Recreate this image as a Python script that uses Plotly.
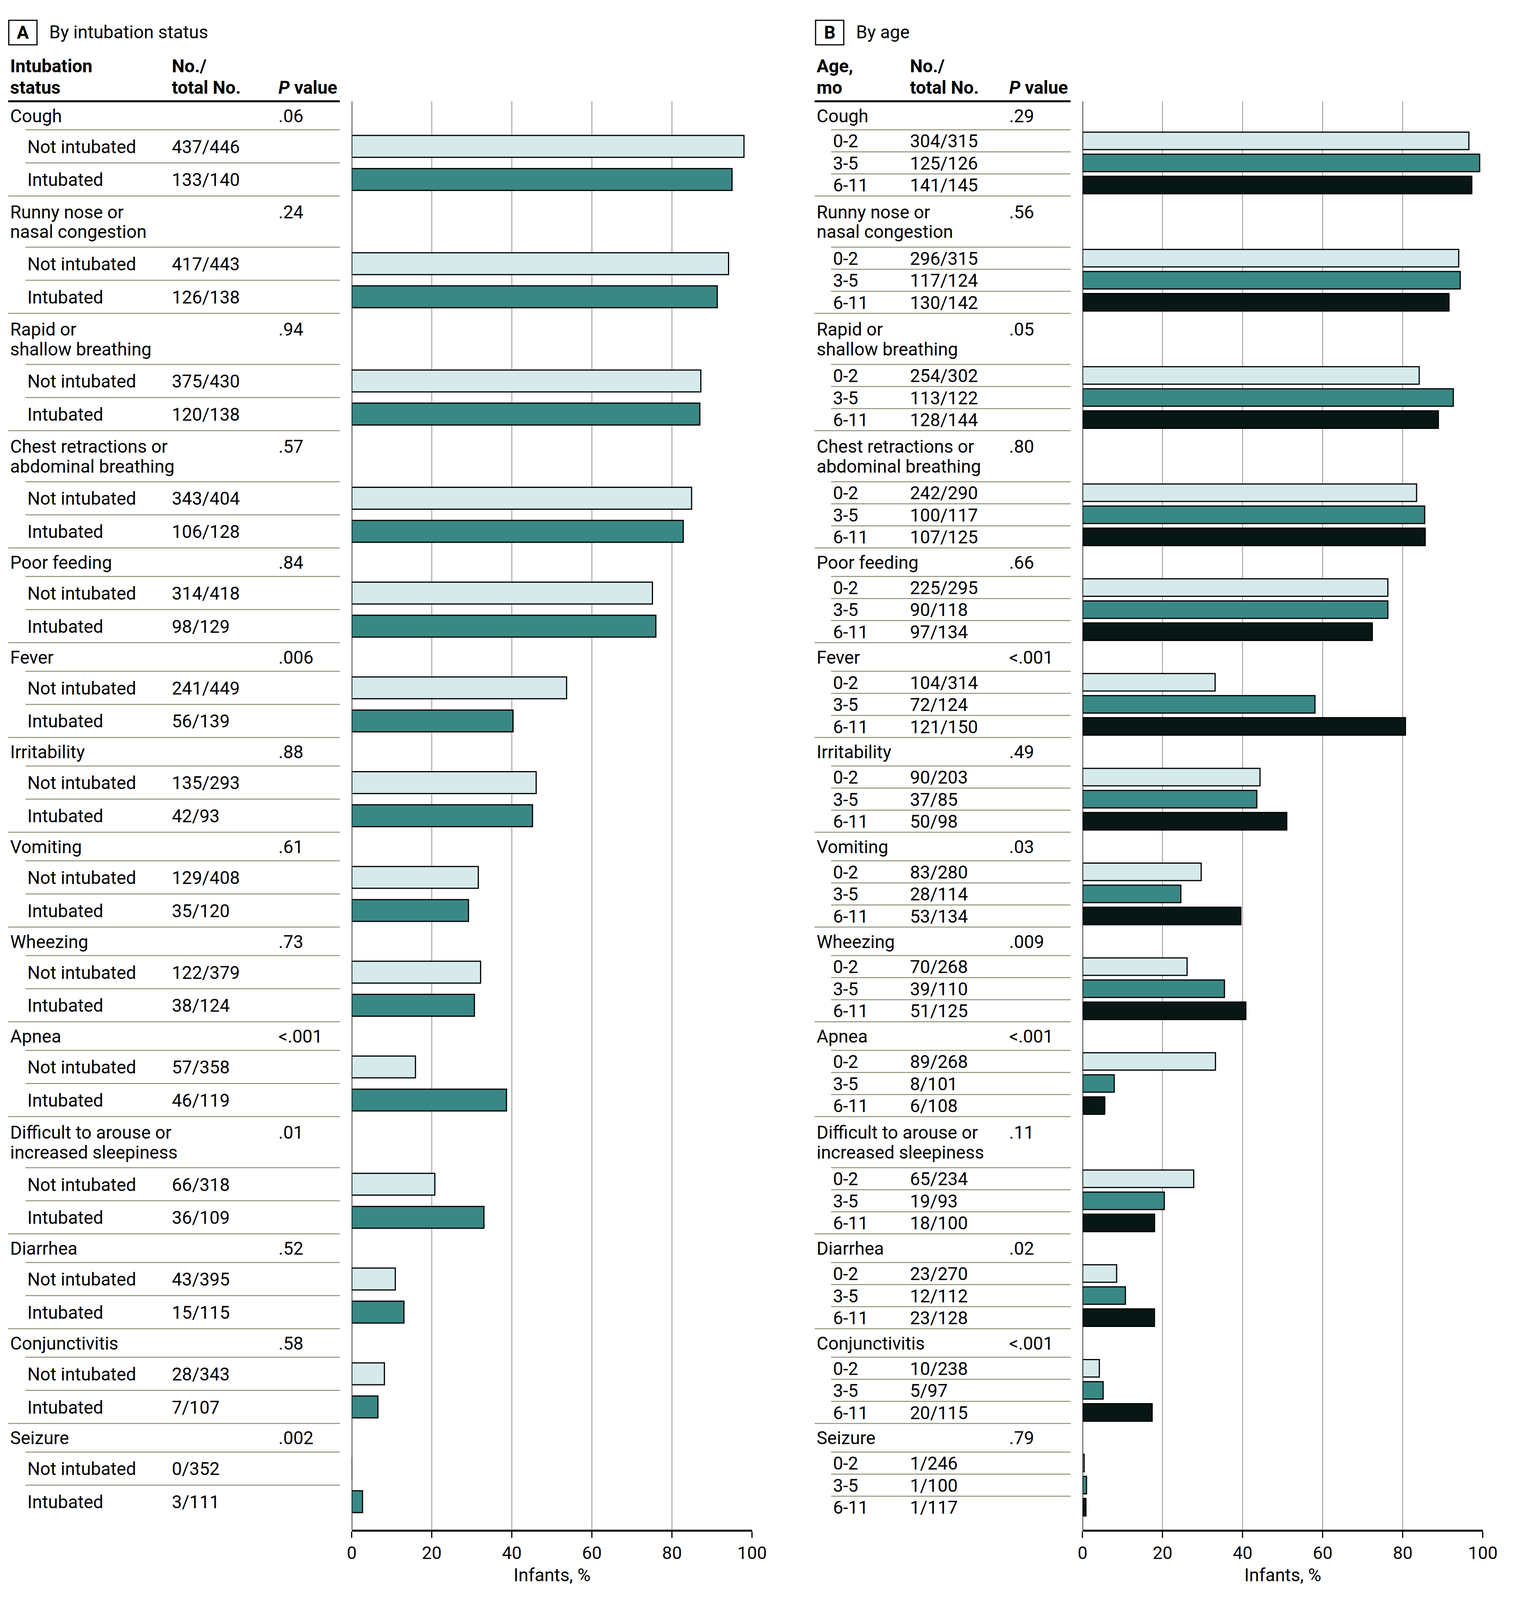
import plotly.graph_objects as go

# reference canvas, used to place everything in paper fractions
W, H = 3892, 4742

# ---- data ----
symptoms = [
    "Cough", "Runny nose or<br>nasal congestion", "Rapid or<br>shallow breathing",
    "Chest retractions or<br>abdominal breathing", "Poor feeding", "Fever", "Irritability",
    "Vomiting", "Wheezing", "Apnea", "Difficult to arouse or<br>increased sleepiness",
    "Diarrhea", "Conjunctivitis", "Seizure",
]

# panel A: by intubation status
intub_groups = ["Not intubated", "Intubated"]
p_intub = [".06", ".24", ".94", ".57", ".84", ".006", ".88", ".61", ".73", "<.001", ".01", ".52", ".58", ".002"]
not_intub_n = [437, 417, 375, 343, 314, 241, 135, 129, 122, 57, 66, 43, 28, 0]
not_intub_total = [446, 443, 430, 404, 418, 449, 293, 408, 379, 358, 318, 395, 343, 352]
intub_n = [133, 126, 120, 106, 98, 56, 42, 35, 38, 46, 36, 15, 7, 3]
intub_total = [140, 138, 138, 128, 129, 139, 93, 120, 124, 119, 109, 115, 107, 111]

# panel B: by age
age_groups = ["0-2", "3-5", "6-11"]
p_age = [".29", ".56", ".05", ".80", ".66", "<.001", ".49", ".03", ".009", "<.001", ".11", ".02", "<.001", ".79"]
age02_n = [304, 296, 254, 242, 225, 104, 90, 83, 70, 89, 65, 23, 10, 1]
age02_total = [315, 315, 302, 290, 295, 314, 203, 280, 268, 268, 234, 270, 238, 246]
age35_n = [125, 117, 113, 100, 90, 72, 37, 28, 39, 8, 19, 12, 5, 1]
age35_total = [126, 124, 122, 117, 118, 124, 85, 114, 110, 101, 93, 112, 97, 100]
age611_n = [141, 130, 128, 107, 97, 121, 50, 53, 51, 6, 18, 23, 20, 1]
age611_total = [145, 142, 144, 125, 134, 150, 98, 134, 125, 108, 100, 128, 115, 117]

LIGHT = "#D6EAEB"
TEAL = "#3A8885"
DARK = "#081716"
SEP = "#8D9279"
GRID = "#B4B4B4"
FONT = "Roboto, Liberation Sans, Arial, sans-serif"
FS = 46

TOP = 292      # thick header rule
BOTTOM = 4542  # x axis line
HEAD_H = 85
LINE_H = 67


def px(v):
    return v / W


def py(v):
    return 1 - v / H


annotations = []
shapes = []


def txt(x, y, s, size=FS, anchor="left"):
    annotations.append(dict(x=px(x), y=py(y), xref="paper", yref="paper", text=s,
                            showarrow=False, xanchor=anchor, yanchor="middle",
                            font=dict(size=size, color="black", family=FONT)))


def hline(x0, x1, y, color=SEP, width=2.5):
    shapes.append(dict(type="line", xref="paper", yref="paper", x0=px(x0), x1=px(x1),
                       y0=py(y), y1=py(y), line=dict(color=color, width=width)))


def panel(x_left, x_sub, x_num, x_p, x_right, sub_labels, pvals, counts, sub_h):
    """Lay out one table panel; returns bar centre positions per subgroup."""
    centers = [[] for _ in sub_labels]
    y = TOP
    for i, name in enumerate(symptoms):
        lines = name.split("<br>")
        h = HEAD_H + LINE_H * (len(lines) - 1)
        mid = y + h / 2 + 1
        for k, ln in enumerate(lines):
            txt(x_left, mid + (k - (len(lines) - 1) / 2) * 59, ln)
        txt(x_p, mid - (len(lines) - 1) * 29.5, pvals[i])
        y += h
        hline(x_sub - 3, x_right, y)
        for j, lab in enumerate(sub_labels):
            c = y + sub_h / 2
            n, tot = counts[j][0][i], counts[j][1][i]
            txt(x_sub, c + 1, lab)
            txt(x_num, c + 1, f"{n}/{tot}")
            centers[j].append(c)
            y += sub_h
            if j < len(sub_labels) - 1:
                hline(x_sub - 3, x_right, y)
        if i < len(symptoms) - 1:
            hline(x_left - 3, x_right, y)
    return centers


# panel A table
cent_a = panel(3, 48, 424, 702, 864, intub_groups, p_intub,
               [(not_intub_n, not_intub_total), (intub_n, intub_total)], 98.5)
# panel B table
cent_b = panel(2104, 2147, 2347, 2606, 2768, age_groups, p_age,
               [(age02_n, age02_total), (age35_n, age35_total), (age611_n, age611_total)], 197 / 3)

# headers
for (bx, label, title, col1, xs) in [
    (0, "A", "By intubation status", ["Intubation", "status"], (3, 424, 702, 864)),
    (2102, "B", "By age", ["Age,", "mo"], (2104, 2347, 2606, 2768)),
]:
    shapes.append(dict(type="rect", xref="paper", yref="paper", x0=px(bx + 1.5), x1=px(bx + 75),
                       y0=py(51), y1=py(124), line=dict(color="black", width=3)))
    txt(bx + 38, 87, f"<b>{label}</b>", anchor="center")
    txt(bx + 105, 86, title)
    txt(xs[0], 187, f"<b>{col1[0]}</b>")
    txt(xs[0], 251, f"<b>{col1[1]}</b>")
    txt(xs[1], 187, "<b>No./</b>")
    txt(xs[1], 251, "<b>total No.</b>")
    txt(xs[2], 251, "<b><i>P</i> value</b>")
    hline(xs[0] - 3, xs[3], TOP, color="black", width=5)

fig = go.Figure()

series_a = [(not_intub_n, not_intub_total, LIGHT), (intub_n, intub_total, TEAL)]
for j, (n, tot, color) in enumerate(series_a):
    fig.add_trace(go.Bar(
        x=[a / b * 100 for a, b in zip(n, tot)], y=cent_a[j], orientation="h", width=65,
        marker=dict(color=color, line=dict(color="black", width=3)),
        xaxis="x", yaxis="y", name=intub_groups[j]))

series_b = [(age02_n, age02_total, LIGHT), (age35_n, age35_total, TEAL), (age611_n, age611_total, DARK)]
for j, (n, tot, color) in enumerate(series_b):
    fig.add_trace(go.Bar(
        x=[a / b * 100 for a, b in zip(n, tot)], y=cent_b[j], orientation="h", width=52,
        marker=dict(color=color, line=dict(color="black", width=3)),
        xaxis="x2", yaxis="y", name=age_groups[j]))

# black zero lines
for ax in ["x", "x2"]:
    shapes.append(dict(type="line", xref=ax, yref="y", x0=0, x1=0, y0=TOP, y1=BOTTOM,
                       line=dict(color="black", width=3), layer="above"))

# axis titles
txt((895 + 1938) / 2, 4677, "Infants, %", anchor="center")
txt((2799 + 3842) / 2, 4677, "Infants, %", anchor="center")

xax = dict(range=[0, 100], tickvals=[0, 20, 40, 60, 80, 100], showgrid=True, gridcolor=GRID,
           gridwidth=3, showline=True, linecolor="black", linewidth=5, ticks="outside",
           ticklen=16, tickwidth=3, tickcolor="black", anchor="y", zeroline=False,
           tickfont=dict(size=45, family=FONT, color="black"))

fig.update_layout(
    margin=dict(l=0, r=0, t=0, b=0),
    plot_bgcolor="white", paper_bgcolor="white",
    showlegend=False, barmode="overlay",
    xaxis=dict(domain=[px(895), px(1938)], **xax),
    xaxis2=dict(domain=[px(2799), px(3842)], **xax),
    yaxis=dict(domain=[py(BOTTOM), py(TOP)], range=[BOTTOM, TOP], visible=False),
    annotations=annotations,
    shapes=shapes,
    font=dict(family=FONT),
)

fig.write_html("out.html")
